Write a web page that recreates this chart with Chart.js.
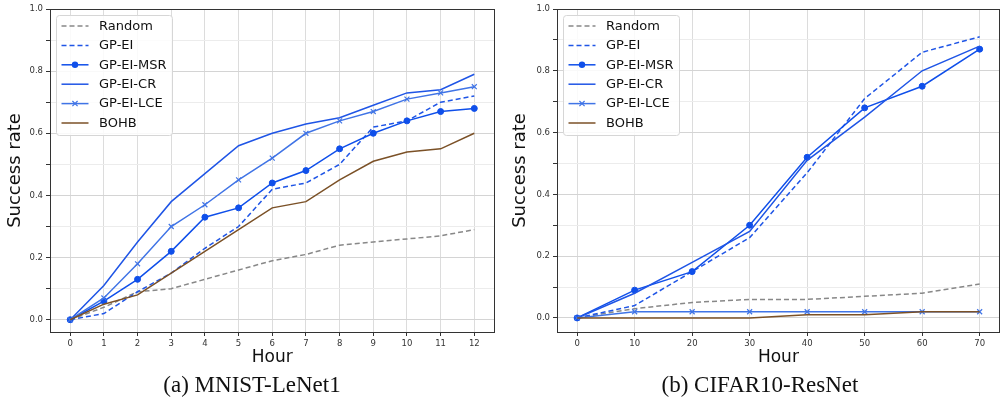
<!DOCTYPE html>
<html>
<head>
<meta charset="utf-8">
<script src="https://cdn.jsdelivr.net/npm/chart.js@4.4.0/dist/chart.umd.min.js"></script>
<style>
  body { margin: 0; background: #fff; }
  #wrap { position: relative; width: 1005px; height: 402px; overflow: hidden; }
  .panel { position: absolute; top: 0; width: 500px; height: 372px; }
  .caption {
    position: absolute; top: 370px; width: 300px; text-align: center;
    font-family: "Liberation Serif", "Times New Roman", serif; font-size: 23px;
    line-height: 30px; color: #111;
  }
</style>
</head>
<body>
<div id="wrap">
  <canvas id="chart-a" class="panel" width="500" height="372" style="left:0"></canvas>
  <canvas id="chart-b" class="panel" width="500" height="372" style="left:505px"></canvas>
  <div class="caption" style="left:102px">(a) MNIST-LeNet1</div>
  <div class="caption" style="left:610px">(b) CIFAR10-ResNet</div>
</div>
<script>
// series names (same for both panels)
const seriesNames = ['Random', 'GP-EI', 'GP-EI-MSR', 'GP-EI-CR', 'GP-EI-LCE', 'BOHB'];

// y ticks (labelled every 0.2, minor at 0.1)
const yTicks = [0, 0.1, 0.2, 0.3, 0.4, 0.5, 0.6, 0.7, 0.8, 0.9, 1.0];

// (a) MNIST-LeNet1
const hoursA = [0, 1, 2, 3, 4, 5, 6, 7, 8, 9, 10, 11, 12];
const randomA = [0, 0.04, 0.09, 0.10, 0.13, 0.16, 0.19, 0.21, 0.24, 0.25, 0.26, 0.27, 0.29];
const gpeiA   = [0, 0.02, 0.09, 0.15, 0.23, 0.30, 0.42, 0.44, 0.50, 0.62, 0.64, 0.70, 0.72];
const msrA    = [0, 0.06, 0.13, 0.22, 0.33, 0.36, 0.44, 0.48, 0.55, 0.60, 0.64, 0.67, 0.68];
const crA     = [0, 0.11, 0.25, 0.38, 0.47, 0.56, 0.60, 0.63, 0.65, 0.69, 0.73, 0.74, 0.79];
const lceA    = [0, 0.07, 0.18, 0.30, 0.37, 0.45, 0.52, 0.60, 0.64, 0.67, 0.71, 0.73, 0.75];
const bohbA   = [0, 0.05, 0.08, 0.15, 0.22, 0.29, 0.36, 0.38, 0.45, 0.51, 0.54, 0.55, 0.60];

// (b) CIFAR10-ResNet
const hoursB = [0, 10, 20, 30, 40, 50, 60, 70];
const randomB = [0, 0.03, 0.05, 0.06, 0.06, 0.07, 0.08, 0.11];
const gpeiB   = [0, 0.04, 0.15, 0.26, 0.47, 0.71, 0.86, 0.91];
const msrB    = [0, 0.09, 0.15, 0.30, 0.52, 0.68, 0.75, 0.87];
const crB     = [0, 0.08, 0.18, 0.28, 0.51, 0.65, 0.80, 0.88];
const lceB    = [0, 0.02, 0.02, 0.02, 0.02, 0.02, 0.02, 0.02];
const bohbB   = [0, 0, 0, 0, 0.01, 0.01, 0.02, 0.02];

const styles = [
  { color: '#888888', dash: [5, 3], marker: false },
  { color: '#1f55e6', dash: [5, 3], marker: false },
  { color: '#0f4fea', dash: [], marker: 'circle' },
  { color: '#1f55e6', dash: [], marker: false },
  { color: '#4074e6', dash: [], marker: 'crossRot' },
  { color: '#7b5127', dash: [], marker: false }
];

const FONT = '"DejaVu Sans", Verdana, sans-serif';

function makeDatasets(xs, ys) {
  return ys.map((vals, i) => {
    const st = styles[i];
    return {
      label: seriesNames[i],
      data: xs.map((x, j) => ({ x: x, y: vals[j] })),
      borderColor: st.color,
      backgroundColor: st.color,
      borderWidth: 1.5,
      borderDash: st.dash,
      pointStyle: st.marker || 'circle',
      pointRadius: st.marker === 'circle' ? 3 : (st.marker ? 3.5 : 0),
      pointBorderWidth: st.marker === 'crossRot' ? 1.2 : 1,
      order: ys.length - i,
      tension: 0
    };
  });
}

// legend drawn inside the plot, matplotlib style
const innerLegend = {
  id: 'innerLegend',
  afterDraw(chart) {
    const { ctx, chartArea } = chart;
    const bx = chartArea.left + 6.5, by = chartArea.top + 6.5, bw = 116, bh = 120;
    ctx.save();
    ctx.beginPath();
    ctx.roundRect(bx, by, bw, bh, 3);
    ctx.fillStyle = 'rgba(255,255,255,0.85)';
    ctx.fill();
    ctx.strokeStyle = '#d6d6d6';
    ctx.lineWidth = 1;
    ctx.stroke();
    ctx.font = '13px ' + FONT;
    ctx.textBaseline = 'middle';
    chart.data.datasets.forEach((ds, i) => {
      const y = by + 10.5 + i * 19.4;
      const x1 = bx + 5, x2 = bx + 32;
      ctx.strokeStyle = ds.borderColor;
      ctx.lineWidth = 1.5;
      ctx.setLineDash(ds.borderDash);
      ctx.beginPath();
      ctx.moveTo(x1, y);
      ctx.lineTo(x2, y);
      ctx.stroke();
      ctx.setLineDash([]);
      const mx = (x1 + x2) / 2;
      if (ds.pointRadius > 0) {
        if (ds.pointStyle === 'circle') {
          ctx.fillStyle = ds.borderColor;
          ctx.beginPath();
          ctx.arc(mx, y, 3.2, 0, Math.PI * 2);
          ctx.fill();
        } else {
          const r = 2.6;
          ctx.lineWidth = 1.2;
          ctx.beginPath();
          ctx.moveTo(mx - r, y - r); ctx.lineTo(mx + r, y + r);
          ctx.moveTo(mx - r, y + r); ctx.lineTo(mx + r, y - r);
          ctx.stroke();
        }
      }
      ctx.fillStyle = '#111';
      ctx.fillText(ds.label, bx + 42.5, y + 0.5);
    });
    ctx.restore();
  }
};

// full box around the plot area
const frame = {
  id: 'frame',
  afterDatasetsDraw(chart) {
    const { ctx, chartArea: a } = chart;
    ctx.save();
    ctx.strokeStyle = '#333';
    ctx.lineWidth = 1;
    ctx.strokeRect(Math.round(a.left) + 0.5, Math.round(a.top) + 0.5,
      Math.round(a.right - a.left) - 1, Math.round(a.bottom - a.top));
    ctx.restore();
  }
};

function makeChart(id, xs, ys, xmin, xmax, ymin, padRight) {
  const isMajor = v => Math.round(v * 10) % 2 === 0;
  return new Chart(document.getElementById(id), {
    type: 'line',
    data: { datasets: makeDatasets(xs, ys) },
    plugins: [frame, innerLegend],
    options: {
      responsive: false,
      animation: false,
      layout: { padding: { top: 9, right: padRight, left: 0, bottom: 0 } },
      plugins: { legend: { display: false }, tooltip: { enabled: false } },
      scales: {
        x: {
          type: 'linear', min: xmin, max: xmax,
          afterBuildTicks: s => { s.ticks = xs.map(v => ({ value: v })); },
          afterFit: s => { s.height = 40; },
          border: { display: false },
          grid: { color: '#dcdcdc', lineWidth: 1, tickLength: 4, tickColor: '#333' },
          ticks: { font: { family: FONT, size: 8.5 }, color: '#333', padding: 3,
                   maxRotation: 0, autoSkip: false, callback: v => String(v) },
          title: { display: true, text: 'Hour', color: '#111',
                   font: { family: FONT, size: 17 }, padding: { top: 0, bottom: 4 } }
        },
        y: {
          min: ymin, max: 1.0,
          afterBuildTicks: s => { s.ticks = yTicks.map(v => ({ value: v })); },
          afterFit: s => { s.width = id === 'chart-a' ? 50 : 52; },
          border: { display: false },
          grid: {
            color: c => isMajor(c.tick.value) ? '#d4d4d4' : '#ececec',
            lineWidth: 1, tickLength: 4, tickColor: '#333'
          },
          ticks: { font: { family: FONT, size: 8.5 }, color: '#333', padding: 3,
                   autoSkip: false,
                   callback: v => isMajor(v) ? (Math.round(v * 10) / 10).toFixed(1) : '' },
          title: { display: true, text: 'Success rate', color: '#111',
                   font: { family: FONT, size: 18 }, padding: { top: 4.5, bottom: 0 } }
        }
      }
    }
  });
}

makeChart('chart-a', hoursA, [randomA, gpeiA, msrA, crA, lceA, bohbA], -0.6, 12.6, -0.0395, 5.5);
makeChart('chart-b', hoursB, [randomB, gpeiB, msrB, crB, lceB, bohbB], -3.5, 73.5, -0.0455, 3);
</script>
</body>
</html>
